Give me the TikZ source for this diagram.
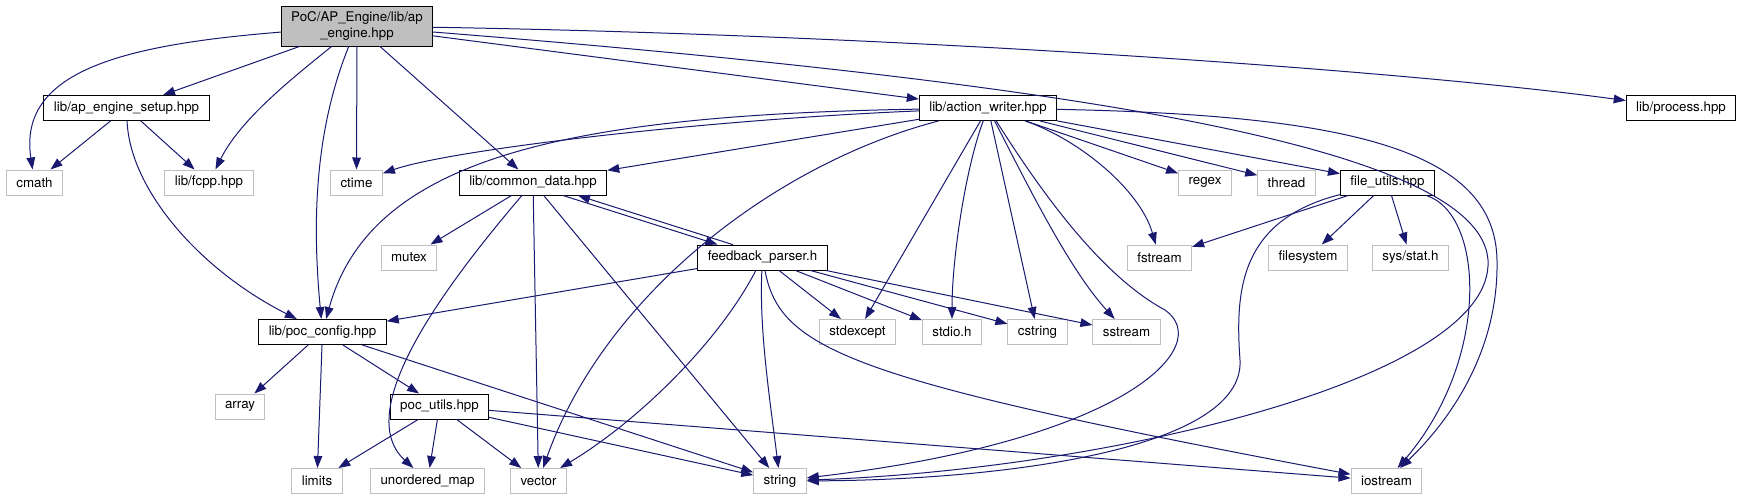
\documentclass[tikz,border=0pt]{standalone}
\usepackage{fontspec}
\setmainfont{TeX Gyre Heros}
\usepackage{tikz}
\usetikzlibrary{calc,arrows.meta}
\definecolor{medianoche}{HTML}{191970}
\definecolor{gris}{HTML}{BFBFBF}

\begin{document}
\begin{tikzpicture}[x=0.75pt,y=-0.75pt,>={Triangle[length=9pt,width=6.5pt]},line cap=round,
  caja/.style={draw,line width=0.75pt,font=\fontsize{10}{12}\selectfont,
               inner xsep=7.5pt,inner ysep=0pt,minimum height=18.75pt},
  doc/.style={caja,draw=black,fill=white},
  ext/.style={caja,draw=gris,fill=white},
  dep/.style={->,medianoche,line width=0.75pt}]
  \useasboundingbox (0,0) rectangle (1742,500);
  % nodos
  \node[caja,fill=gris,align=center,minimum height=30pt] (apengine) at (357,26)
       {PoC/AP\_Engine/lib/ap\\\_engine.hpp};
  \node[doc] (setup)    at (126.5,108) {lib/ap\_engine\_setup.hpp};
  \node[doc] (writer)   at (988,108)   {lib/action\_writer.hpp};
  \node[doc] (process)  at (1681,108)  {lib/process.hpp};
  \node[ext] (cmath)    at (34.5,182.5)  {cmath};
  \node[ext] (fcpp)     at (209,182.5)   {lib/fcpp.hpp};
  \node[ext] (ctime)    at (356.5,182.5) {ctime};
  \node[doc] (common)   at (533,182.5)   {lib/common\_data.hpp};
  \node[ext] (regex)    at (1205,182.5)  {regex};
  \node[ext] (thread)   at (1286.5,182.5){thread};
  \node[doc] (fileutils) at (1387.5,182.5) {file\_utils.hpp};
  \node[ext] (mutex)    at (409,257.5)   {mutex};
  \node[doc] (parser)   at (762.5,257.5) {feedback\_parser.h};
  \node[ext] (fstream)  at (1159.5,257.5){fstream};
  \node[ext] (filesys)  at (1308,257.5)  {filesystem};
  \node[ext] (sysstat)  at (1410.5,257.5){sys/stat.h};
  \node[doc] (pocconfig) at (322.5,332)  {lib/poc\_config.hpp};
  \node[ext] (stdexcept) at (857.5,332)  {stdexcept};
  \node[ext] (stdio)    at (952,332)     {stdio.h};
  \node[ext] (cstring)  at (1037.5,332)  {cstring};
  \node[ext] (sstream)  at (1126.5,332)  {sstream};
  \node[ext] (array)    at (240,406.5)   {array};
  \node[doc] (pocutils) at (439.5,406.5) {poc\_utils.hpp};
  \node[ext] (limits)   at (317,481)     {limits};
  \node[ext] (umap)     at (427.5,481)   {unordered\_map};
  \node[ext] (vector)   at (538.5,481)   {vector};
  \node[ext] (string)   at (780,481)     {string};
  \node[ext] (iostream) at (1386.5,481)  {iostream};
  % desde ap_engine.hpp
  \draw[dep] (apengine) .. controls (120,45) and (18,72) .. (cmath);
  \draw[dep] (apengine) -- (setup);
  \draw[dep] (apengine) .. controls (290,80) and (240,120) .. (fcpp);
  \draw[dep] (apengine) .. controls (315,130) and (312,220) .. (pocconfig);
  \draw[dep] (apengine) -- (ctime);
  \draw[dep] (apengine) -- (common);
  \draw[dep] (apengine) -- (writer);
  \draw[dep] (apengine) .. controls (900,35) and (1400,70) .. (process);
  \draw[dep] (apengine) .. controls (1100,85) and (1480,150) .. (1488,260)
             .. controls (1495,380) and (1100,470) .. (string);
  % desde ap_engine_setup.hpp
  \draw[dep] (setup) -- (cmath);
  \draw[dep] (setup) -- (fcpp);
  \draw[dep] (setup) .. controls (130,190) and (200,270) .. (pocconfig);
  % desde action_writer.hpp
  \draw[dep] (writer) .. controls (700,120) and (450,150) .. (ctime);
  \draw[dep] (writer) .. controls (560,115) and (370,160) .. (pocconfig);
  \draw[dep] (writer) -- (common);
  \draw[dep] (writer) .. controls (774,164) and (604,296) .. (vector);
  \draw[dep] (writer) -- (stdexcept);
  \draw[dep] (writer) .. controls (965,170) and (952,260) .. (stdio);
  \draw[dep] (writer) -- (cstring);
  \draw[dep] (writer) .. controls (1030,190) and (1070,270) .. (sstream);
  \draw[dep] (writer) .. controls (1040,190) and (1100,275) .. (1165,310)
             .. controls (1215,345) and (1130,440) .. (string);
  \draw[dep] (writer) .. controls (1080,140) and (1140,190) .. (fstream);
  \draw[dep] (writer) -- (regex);
  \draw[dep] (writer) -- (thread);
  \draw[dep] (writer) -- (fileutils);
  \draw[dep] (writer) .. controls (1350,115) and (1495,150) .. (1497,260)
             .. controls (1499,360) and (1440,430) .. (iostream);
  % desde common_data.hpp
  \draw[dep] (common) -- (mutex);
  \draw[dep] (common) .. controls (450,280) and (350,410) .. (umap);
  \draw[dep] (common) -- (vector);
  \draw[dep] (common) -- (string);
  \draw[dep] ($(common.south)+(30,0)$) -- ($(parser.north)+(-45,0)$);
  % desde feedback_parser.h
  \draw[dep] ($(parser.north)+(-30,0)$) -- ($(common.south)+(45,0)$);
  \draw[dep] (parser) -- (pocconfig);
  \draw[dep] (parser) .. controls (759,330) and (770,400) .. (string);
  \draw[dep] (parser) .. controls (720,340) and (640,420) .. (vector);
  \draw[dep] (parser) -- (stdexcept);
  \draw[dep] (parser) -- (stdio);
  \draw[dep] (parser) -- (cstring);
  \draw[dep] (parser) -- (sstream);
  \draw[dep] (parser) .. controls (780,350) and (850,380) .. (iostream);
  % desde poc_config.hpp
  \draw[dep] (pocconfig) -- (array);
  \draw[dep] (pocconfig) -- (limits);
  \draw[dep] (pocconfig) -- (pocutils);
  \draw[dep] (pocconfig) -- (string);
  % desde poc_utils.hpp
  \draw[dep] (pocutils) -- (limits);
  \draw[dep] (pocutils) -- (umap);
  \draw[dep] (pocutils) -- (vector);
  \draw[dep] (pocutils) -- (string);
  \draw[dep] (pocutils) -- (iostream);
  % desde file_utils.hpp
  \draw[dep] (fileutils) -- (fstream);
  \draw[dep] (fileutils) -- (filesys);
  \draw[dep] (fileutils) -- (sysstat);
  \draw[dep] (fileutils) .. controls (1240,220) and (1235,290) .. (1240,360)
             .. controls (1245,450) and (1000,480) .. (string);
  \draw[dep] (fileutils) .. controls (1485,215) and (1490,360) .. (iostream);
\end{tikzpicture}
\end{document}
